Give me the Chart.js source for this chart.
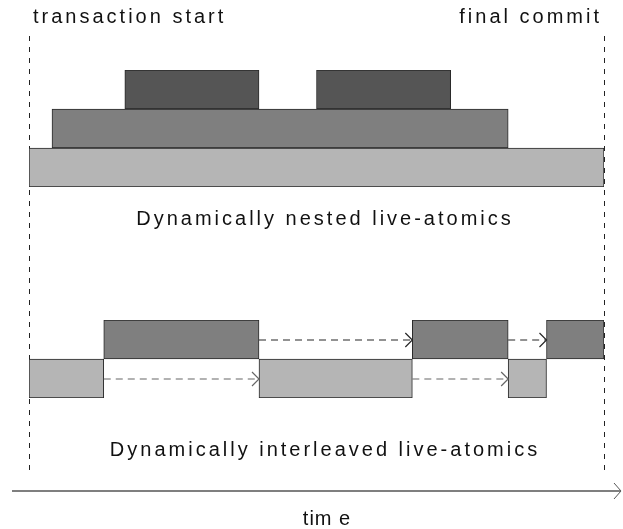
<!DOCTYPE html>
<html>
<head>
<meta charset="utf-8">
<script src="https://cdn.jsdelivr.net/npm/chart.js@4"></script>
<style>
  body { margin: 0; background: #fff; }
</style>
</head>
<body>
<canvas id="timeline" width="623" height="529"></canvas>
<script>
// time runs from 0 (transaction start) to 30 (final commit)
const timeRange = [0, 30]

// dynamically nested live-atomics, lanes top to bottom
const nestedLanes = ['level 3', 'level 2', 'level 1']
const level1 = [[0, 30]]
const level2 = [[1.2, 25]]
const level3 = [[5, 12], [15, 22]]

// dynamically interleaved live-atomics
const interLanes = ['atomic A', 'atomic B']
const atomicA = [[3.9, 12], [20, 25], [27, 30]]
const atomicB = [[0, 3.9], [12, 20], [25, 27]]

const labels = {
  start: 'transaction start',
  end: 'final commit',
  nested: 'Dynamically nested live-atomics',
  inter: 'Dynamically interleaved live-atomics',
  axis: 'tim e'
}

const LIGHT = '#b5b5b5'
const MID = '#7f7f7f'
const DARK = '#555555'
const EDGE = '#2a2a2a'

const lane = (segs, name) => segs.map(s => ({ x: s, y: name }))

const barStyle = {
  grouped: false,
  categoryPercentage: 1,
  barPercentage: 1,
  borderWidth: 1,
  borderColor: EDGE,
  borderSkipped: false
}

function chevron(ctx, x, y, w, h) {
  ctx.setLineDash([])
  ctx.beginPath()
  ctx.moveTo(x - w, y - h)
  ctx.lineTo(x, y)
  ctx.lineTo(x - w, y + h)
  ctx.stroke()
}

function dashedArrows(ctx, xs, segs, y, color) {
  ctx.strokeStyle = color
  ctx.lineWidth = 1.2
  for (let i = 0; i < segs.length - 1; i++) {
    let x0 = xs.getPixelForValue(segs[i][1])
    let x1 = xs.getPixelForValue(segs[i + 1][0])
    ctx.setLineDash([7, 5])
    ctx.beginPath()
    ctx.moveTo(x0, y + 0.5)
    ctx.lineTo(x1, y + 0.5)
    ctx.stroke()
    chevron(ctx, x1, y + 0.5, 7, 7)
  }
}

const decorations = {
  id: 'decorations',
  beforeDatasetsDraw(chart) {
    const ctx = chart.ctx
    const xs = chart.scales.x
    ctx.save()
    ctx.strokeStyle = '#222'
    ctx.lineWidth = 1
    ctx.setLineDash([5, 6])
    timeRange.forEach(v => {
      let px = Math.round(xs.getPixelForValue(v)) + 0.5
      ctx.beginPath()
      ctx.moveTo(px, 36)
      ctx.lineTo(px, 475)
      ctx.stroke()
    })
    ctx.restore()
  },
  afterDatasetsDraw(chart) {
    const ctx = chart.ctx
    const xs = chart.scales.x
    const ya = chart.scales.yInter
    ctx.save()
    dashedArrows(ctx, xs, atomicA, ya.getPixelForValue(0), '#262626')
    dashedArrows(ctx, xs, atomicB, ya.getPixelForValue(1), '#666')

    // time axis
    ctx.strokeStyle = '#555'
    ctx.lineWidth = 1.5
    ctx.setLineDash([])
    ctx.beginPath()
    ctx.moveTo(12, 491)
    ctx.lineTo(620, 491)
    ctx.stroke()
    ctx.lineWidth = 1
    chevron(ctx, 621, 491, 7, 8)

    ctx.fillStyle = '#111'
    ctx.font = '20px "Liberation Sans", Arial, sans-serif'
    ctx.letterSpacing = '3px'
    ctx.textBaseline = 'alphabetic'
    ctx.textAlign = 'left'
    ctx.fillText(labels.start, 33, 23)
    ctx.textAlign = 'right'
    ctx.fillText(labels.end, 602, 23)
    ctx.textAlign = 'center'
    ctx.fillText(labels.nested, 325, 225)
    ctx.fillText(labels.inter, 325, 456)
    ctx.letterSpacing = '1px'
    ctx.fillText(labels.axis, 327, 525)
    ctx.restore()
  }
}

let ctx = document.getElementById('timeline').getContext('2d')
let myChart = new Chart(ctx, {
  type: 'bar',
  data: {
    datasets: [
      { label: 'level 1', yAxisID: 'yNested', data: lane(level1, 'level 1'), backgroundColor: LIGHT, ...barStyle },
      { label: 'level 2', yAxisID: 'yNested', data: lane(level2, 'level 2'), backgroundColor: MID, ...barStyle },
      { label: 'level 3', yAxisID: 'yNested', data: lane(level3, 'level 3'), backgroundColor: DARK, ...barStyle },
      { label: 'atomic B', yAxisID: 'yInter', data: lane(atomicB, 'atomic B'), backgroundColor: LIGHT, ...barStyle },
      { label: 'atomic A', yAxisID: 'yInter', data: lane(atomicA, 'atomic A'), backgroundColor: MID, ...barStyle }
    ]
  },
  options: {
    indexAxis: 'y',
    responsive: false,
    animation: false,
    layout: { padding: { left: 29, right: 19, top: 70, bottom: 131 } },
    plugins: {
      legend: { display: false },
      tooltip: { enabled: false }
    },
    scales: {
      x: { type: 'linear', min: timeRange[0], max: timeRange[1], display: false },
      // lanes stacked from the top: nested group, blank gap, interleaved group
      yNested: { type: 'category', labels: nestedLanes, position: 'right', stack: 'lanes', stackWeight: 117, offset: true, display: false },
      yGap: { type: 'category', labels: [''], position: 'right', stack: 'lanes', stackWeight: 133, offset: true, display: false },
      yInter: { type: 'category', labels: interLanes, position: 'right', stack: 'lanes', stackWeight: 78, offset: true, display: false }
    }
  },
  plugins: [decorations]
});
</script>
</body>
</html>
